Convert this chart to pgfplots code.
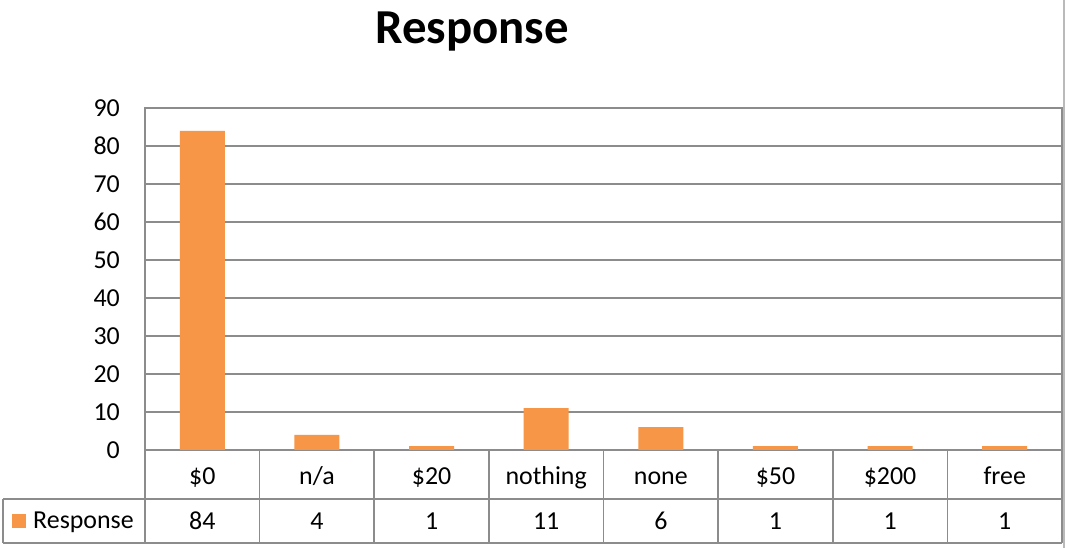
\documentclass[border=0pt]{standalone}
\usepackage{pgfplots}
\pgfplotsset{compat=1.18}
\usepackage{pgfplotstable}
\usepackage{fontspec}
\setmainfont{Carlito}
\definecolor{barorange}{HTML}{F79646}
\definecolor{linegray}{HTML}{8C8C8C}

\pgfplotstableread{
x y
0 84
1 4
2 1
3 11
4 6
5 1
6 1
7 1
}\responsedata

\begin{document}
\begin{tikzpicture}
\useasboundingbox (0bp,0bp) rectangle (1066bp,548bp);
\fill[white] (0bp,0bp) rectangle (1066bp,548bp);
\draw[linegray!60, line width=1.5bp] (1064bp,0bp) -- (1064bp,548bp);
\begin{axis}[
  at={(145bp,98bp)}, anchor=south west,
  scale only axis, width=917bp, height=342bp,
  xmin=-0.5, xmax=7.5, ymin=0, ymax=90,
  ytick={0,10,...,90},
  xtick={0,...,7},
  xticklabels={\$0,n/a,\$20,nothing,none,\$50,\$200,free},
  major tick length=0pt,
  font=\fontsize{26}{30}\selectfont,
  /pgf/number format/assume math mode=true,
  axis line style={linegray, line width=1.6bp},
  ymajorgrids, grid style={linegray, line width=1.6bp},
  yticklabel style={inner sep=0pt, anchor=east, xshift=-25bp},
  xticklabel style={inner sep=0pt, anchor=base, yshift=-34bp},
  title={Response},
  title style={at={(0.3566,1.205)}, anchor=center, font=\fontsize{49}{56}\selectfont\bfseries},
  clip=false,
  legend style={at={(axis cs:-1.66,-18.6)}, anchor=west, draw=none, fill=none, inner sep=0pt,
    nodes={inner sep=0pt}},
  legend image code/.code={\fill[barorange] (0bp,-7bp) rectangle (14bp,7bp);},
]
\addplot[ybar, bar width=45bp, fill=barorange, draw=none] table[x=x, y=y] {\responsedata};
\addlegendentry{\hspace{7bp}Response}
\addplot[draw=none, mark=none, forget plot, nodes near coords, point meta=explicit,
  every node near coord/.append style={anchor=center, inner sep=0pt}]
  table[x=x, y expr=-18.7, meta=y] {\responsedata};
% data table grid
\pgfplotsinvokeforeach{-0.5,0.5,1.5,2.5,3.5,4.5,5.5,6.5,7.5}{
  \draw[linegray, line width=1.6bp] (axis cs:#1,0) -- (axis cs:#1,-24.5);
}
\draw[linegray, line width=1.6bp] (axis cs:-1.739,-12.9) -- (axis cs:7.5,-12.9);
\draw[linegray, line width=1.6bp] (axis cs:-1.739,-24.5) -- (axis cs:7.5,-24.5);
\draw[linegray, line width=1.6bp] (axis cs:-1.739,-12.9) -- (axis cs:-1.739,-24.5);
\end{axis}
\end{tikzpicture}
\end{document}
